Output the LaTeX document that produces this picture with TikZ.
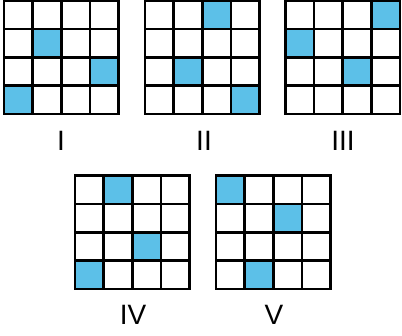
\documentclass[tikz,border=0pt]{standalone}
\usepackage{fontspec}
\setmainfont{Liberation Sans}
\definecolor{cellblue}{RGB}{92,192,232}
\tikzset{
  gridline/.style={line width=2.6pt, black, line cap=rect},
  lab/.style={font=\fontsize{28}{28}\selectfont, inner sep=0pt, anchor=center},
}
% #1 name, #2 left x, #3 top y, #4 list of colored cells {col/row}
\newcommand{\mygrid}[4]{%
  \begin{scope}[shift={(#2,#3)}]
    \foreach \c/\r in {#4} {
      \fill[cellblue] (\c*28.6,\r*28.4) rectangle ++(28.6,28.4);
    }
    \foreach \i in {0,...,4} {
      \draw[gridline] (\i*28.6,0) -- (\i*28.6,113.6);
      \draw[gridline] (0,\i*28.4) -- (114.4,\i*28.4);
    }
    \coordinate (#1) at (57.2,56.8);
  \end{scope}}
\begin{document}
\begin{tikzpicture}[x=1pt,y=-1pt]
  \useasboundingbox (0,0) rectangle (402,336);
  \fill[white] (0,0) rectangle (402,336);
  \mygrid{gI}{4}{0.5}{1/1,3/2,0/3}
  \mygrid{gII}{145}{0.5}{2/0,1/2,3/3}
  \mygrid{gIII}{285.5}{0.5}{3/0,0/1,2/2}
  \mygrid{gIV}{75}{175.5}{1/0,2/2,0/3}
  \mygrid{gV}{216}{175.5}{0/0,2/1,1/3}
  \node[lab] (lI) at (61,141) {I};
  \node[lab] (lII) at (204,141) {II};
  \node[lab] (lIII) at (343,141) {III};
  \node[lab] (lIV) at (133,315) {IV};
  \node[lab] (lV) at (274,315) {V};
\end{tikzpicture}
\end{document}
